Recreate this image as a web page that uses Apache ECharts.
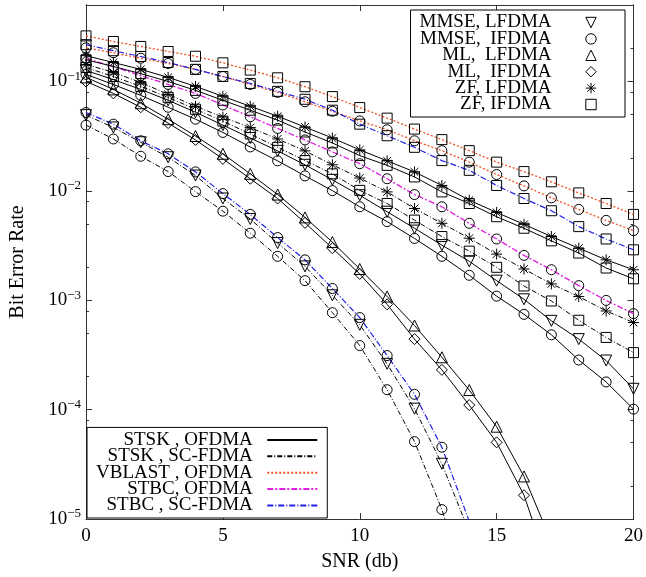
<!DOCTYPE html>
<html>
<head>
<meta charset="utf-8">
<script src="https://cdn.jsdelivr.net/npm/echarts@6/dist/echarts.min.js"></script>
<style>
html, body { margin: 0; padding: 0; background: #fff; }
#main { width: 646px; height: 577px; }
</style>
</head>
<body>
<div id="main"></div>
<script>
var snr = [0,1,2,3,4,5,6,7,8,9,10,11,12,13,14,15,16,17,18,19,20];

// VBLAST, OFDMA (orange dotted)
var vblast_zf_ifdma   = [0.261,0.232,0.209,0.188,0.170,0.148,0.127,0.108,0.0895,0.0727,0.0577,0.0462,0.0367,0.0294,0.0233,0.0183,0.0150,0.0121,0.00958,0.00766,0.00609];
var vblast_mmse_ifdma = [0.203,0.183,0.163,0.146,0.129,0.111,0.0939,0.0795,0.0652,0.0534,0.0436,0.0362,0.0287,0.0233,0.0183,0.0141,0.0111,0.00863,0.00676,0.00537,0.00433];
// STBC, SC-FDMA (blue dash-dot)
var stbcsc_zf_ifdma   = [0.217,0.191,0.169,0.149,0.129,0.111,0.0959,0.0812,0.0687,0.0546,0.0407,0.0319,0.0250,0.0189,0.0154,0.0112,0.00851,0.00658,0.00471,0.00363,0.00289];
var stbcsc_mmse_ifdma = [0.052,0.0407,0.0287,0.0218,0.0149,0.00944,0.00609,0.00374,0.00234,0.00128,0.000694,0.000312,0.000138,0.0000453,0.00000955];
// STBC, OFDMA (magenta dash-dot)
var stbc_mmse_ifdma   = [0.162,0.137,0.113,0.0939,0.0778,0.061,0.0476,0.0372,0.0292,0.0227,0.0177,0.0129,0.00925,0.00715,0.00505,0.00363,0.00257,0.0019,0.00136,0.000996,0.000754];
// STSK, OFDMA (black solid)
var stsk_zf_lfdma     = [0.172,0.149,0.129,0.109,0.0901,0.0731,0.0593,0.0481,0.0383,0.0304,0.0237,0.0188,0.0149,0.0112,0.00821,0.00635,0.00494,0.00382,0.00299,0.00234,0.0019];
var stsk_zf_ifdma     = [0.158,0.137,0.118,0.1,0.0829,0.0673,0.0546,0.0443,0.0345,0.0274,0.021,0.0171,0.0134,0.00978,0.00766,0.0058,0.00455,0.00349,0.0027,0.00197,0.00157];
var stsk_mmse_lfdma   = [0.126,0.104,0.0846,0.0673,0.0523,0.0399,0.0304,0.0232,0.0173,0.0126,0.00912,0.00644,0.00455,0.00319,0.00227,0.00151,0.00102,0.000648,0.000441,0.000281,0.000155];
var stsk_mmse_ifdma   = [0.116,0.0939,0.0746,0.0581,0.0452,0.0342,0.0252,0.0188,0.0137,0.01005,0.00715,0.00523,0.00367,0.00252,0.00169,0.00109,0.000743,0.000483,0.000284,0.000179,0.000101];
var stsk_ml_lfdma     = [0.109,0.0846,0.0632,0.0452,0.0317,0.0218,0.0143,0.00925,0.00572,0.0034,0.00193,0.00108,0.000587,0.000301,0.000151,0.0000698,0.0000245,0.0000062];
var stsk_ml_ifdma     = [0.1,0.0778,0.0581,0.0416,0.0292,0.0196,0.0129,0.00851,0.0051,0.00299,0.00174,0.000916,0.000441,0.000231,0.00011,0.0000502,0.0000165,0.000003];
// STSK, SC-FDMA (black dash-dot)
var stsksc_zf_lfdma   = [0.143,0.121,0.098,0.0762,0.0593,0.0472,0.0379,0.0298,0.0232,0.0173,0.0131,0.00978,0.0069,0.00505,0.00369,0.00264,0.00193,0.00141,0.00108,0.000798,0.000625];
var stsksc_zf_ifdma   = [0.134,0.111,0.0901,0.0716,0.0557,0.0434,0.0331,0.025,0.0189,0.0143,0.0101,0.00766,0.0054,0.00382,0.00281,0.002,0.00135,0.000984,0.000656,0.000457,0.000332];
var stsksc_mmse_lfdma = [0.0492,0.038,0.0278,0.0203,0.0138,0.00851,0.00552,0.00333,0.00204,0.00111,0.000596,0.000262,0.000102,0.000032,0.0000076];
var stsksc_mmse_ifdma = [0.0399,0.0298,0.0207,0.015,0.00984,0.00652,0.0041,0.00252,0.00151,0.00077,0.000385,0.000152,0.000051,0.0000122,0.000002];

var eqNames  = ['MMSE, LFDMA', 'MMSE,  IFDMA', 'ML,  LFDMA', 'ML,  IFDMA', 'ZF, LFDMA', 'ZF, IFDMA'];
var sysNames = ['STSK , OFDMA', 'STSK , SC-FDMA', 'VBLAST , OFDMA', 'STBC, OFDMA', 'STBC , SC-FDMA'];

var yMajor = [1e-5, 1e-4, 1e-3, 1e-2, 1e-1];
var yMinor = [2e-5,5e-5,8e-5, 2e-4,5e-4,8e-4, 2e-3,5e-3,8e-3, 2e-2,5e-2,8e-2, 2e-1];

var FONT = "'Liberation Serif', 'DejaVu Serif', serif";

var mk = {
  mmse_l: { symbol: 'triangle', size: 11, rotate: 180 },
  mmse_i: { symbol: 'circle', size: 10, rotate: 0 },
  ml_l:   { symbol: 'triangle', size: 11, rotate: 0 },
  ml_i:   { symbol: 'diamond', size: 11, rotate: 0 },
  zf_l:   { symbol: 'path://M5 0L5 10M0 5L10 5M1.46 1.46L8.54 8.54M1.46 8.54L8.54 1.46', size: 11, rotate: 0 },
  zf_i:   { symbol: 'rect', size: 10, rotate: 0 }
};
var eqMarks = [mk.mmse_l, mk.mmse_i, mk.ml_l, mk.ml_i, mk.zf_l, mk.zf_i];

var ls = {
  solid:   { color: '#000', width: 1, type: 'solid' },
  dashdot: { color: '#000', width: 1, type: [5, 2, 1, 2] },
  orange:  { color: '#f25022', width: 1.3, type: [2, 2] },
  magenta: { color: '#e11fe1', width: 1.3, type: [6, 2, 2, 2] },
  blue:    { color: '#1f1fe8', width: 1.2, type: [6, 2, 1, 2] }
};
var sysStyles = [ls.solid, ls.dashdot, ls.orange, ls.magenta, ls.blue];

var hollow = { color: 'rgba(0,0,0,0)', borderColor: '#000', borderWidth: 1 };

function curve(name, values, style, m) {
  return {
    name: name, type: 'line',
    data: values.map(function (v, i) { return [snr[i], v]; }),
    symbol: m.symbol, symbolSize: m.size, symbolRotate: m.rotate,
    showAllSymbol: true, clip: true,
    lineStyle: style, itemStyle: hollow,
    emphasis: { disabled: true }, z: 3
  };
}

var series = [
  curve('vblast zf', vblast_zf_ifdma, ls.orange, mk.zf_i),
  curve('vblast mmse', vblast_mmse_ifdma, ls.orange, mk.mmse_i),
  curve('stbcsc zf', stbcsc_zf_ifdma, ls.blue, mk.zf_i),
  curve('stbcsc mmse', stbcsc_mmse_ifdma, ls.blue, mk.mmse_i),
  curve('stbc mmse', stbc_mmse_ifdma, ls.magenta, mk.mmse_i),
  curve('stsk zf l', stsk_zf_lfdma, ls.solid, mk.zf_l),
  curve('stsk zf i', stsk_zf_ifdma, ls.solid, mk.zf_i),
  curve('stsk mmse l', stsk_mmse_lfdma, ls.solid, mk.mmse_l),
  curve('stsk mmse i', stsk_mmse_ifdma, ls.solid, mk.mmse_i),
  curve('stsk ml l', stsk_ml_lfdma, ls.solid, mk.ml_l),
  curve('stsk ml i', stsk_ml_ifdma, ls.solid, mk.ml_i),
  curve('stsksc zf l', stsksc_zf_lfdma, ls.dashdot, mk.zf_l),
  curve('stsksc zf i', stsksc_zf_ifdma, ls.dashdot, mk.zf_i),
  curve('stsksc mmse l', stsksc_mmse_lfdma, ls.dashdot, mk.mmse_l),
  curve('stsksc mmse i', stsksc_mmse_ifdma, ls.dashdot, mk.mmse_i)
];

// empty series that only feed the two legends
eqNames.forEach(function (n, i) {
  series.push({ name: n, type: 'line', data: [], symbol: eqMarks[i].symbol, symbolSize: eqMarks[i].size,
    symbolRotate: eqMarks[i].rotate, lineStyle: { width: 0, opacity: 0, color: '#000' }, itemStyle: hollow });
});
sysNames.forEach(function (n, i) {
  series.push({ name: n, type: 'line', data: [], symbol: 'none', lineStyle: sysStyles[i], itemStyle: { color: sysStyles[i].color } });
});

function expLabel(v) {
  var e = Math.round(Math.log(v) / Math.LN10);
  return '{b|10}{e|' + (e < 0 ? '\u2212' : '') + Math.abs(e) + '}';
}

function yAx(pos, vals, len, labels) {
  return {
    type: 'log', logBase: 10, min: 1e-5, max: 0.5, position: pos,
    name: labels ? 'Bit Error Rate' : '',
    nameLocation: 'middle', nameGap: 58,
    nameTextStyle: { fontFamily: FONT, fontSize: 20, color: '#000' },
    axisLine: { show: true, lineStyle: { color: '#333', width: 1 } },
    axisTick: { show: true, inside: true, length: len, customValues: vals, lineStyle: { color: '#333' } },
    axisLabel: labels ? {
      show: true, customValues: yMajor, margin: 5, formatter: expLabel,
      rich: {
        b: { fontFamily: FONT, fontSize: 19, color: '#000' },
        e: { fontFamily: FONT, fontSize: 13, color: '#000', padding: [0, 0, 10, 0] }
      }
    } : { show: false },
    splitLine: { show: false }, minorTick: { show: false }
  };
}

var legendCommon = {
  orient: 'vertical', align: 'right', itemWidth: 50, itemHeight: 13, itemGap: -2.6,
  padding: [3, 9, 3, 9], borderColor: '#000', borderWidth: 1, borderRadius: 0,
  backgroundColor: '#fff', selectedMode: false,
  textStyle: { fontFamily: FONT, fontSize: 19, color: '#000' },
  formatter: function (n) { return n + '  '; }
};

var chart = echarts.init(document.getElementById('main'));
chart.setOption({
  animation: false,
  backgroundColor: '#fff',
  grid: { left: 77, right: 12, top: 5, bottom: 54 },
  xAxis: [{
    type: 'value', min: 0, max: 20, interval: 5, position: 'bottom',
    name: 'SNR (db)', nameLocation: 'middle', nameGap: 33,
    nameTextStyle: { fontFamily: FONT, fontSize: 20, color: '#000' },
    axisLine: { lineStyle: { color: '#333', width: 1 } },
    axisTick: { inside: true, length: 6, lineStyle: { color: '#333' } },
    axisLabel: { fontFamily: FONT, fontSize: 19, color: '#000', margin: 8 },
    splitLine: { show: false }
  }, {
    type: 'value', min: 0, max: 20, interval: 5, position: 'top',
    axisLine: { lineStyle: { color: '#333', width: 1 } },
    axisTick: { inside: true, length: 6, lineStyle: { color: '#333' } },
    axisLabel: { show: false }, splitLine: { show: false }
  }],
  yAxis: [yAx('left', yMajor, 6, true), yAx('left', yMinor, 3, false),
          yAx('right', yMajor, 6, false), yAx('right', yMinor, 3, false)],
  legend: [
    Object.assign({}, legendCommon, { data: eqNames, right: 21, top: 10,
      itemStyle: { color: 'rgba(0,0,0,0)', borderColor: '#000', borderWidth: 1 } }),
    Object.assign({}, legendCommon, { data: sysNames, left: 87, bottom: 59,
      itemStyle: { color: 'rgba(0,0,0,0)', borderWidth: 0, opacity: 0 } })
  ],
  series: series
});
</script>
</body>
</html>
